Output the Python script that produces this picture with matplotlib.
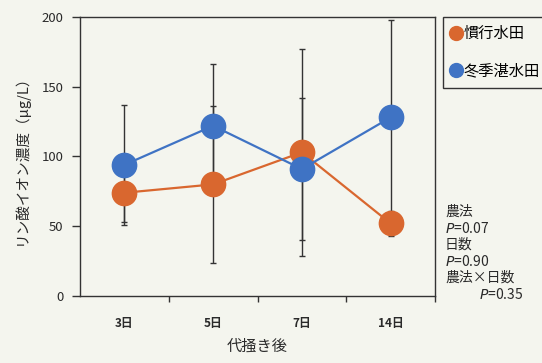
import matplotlib
matplotlib.use("Agg")
import matplotlib.pyplot as plt
from matplotlib.lines import Line2D
import numpy as np

plt.rcParams['font.family'] = ['Noto Sans CJK JP', 'DejaVu Sans']

days = ['3日', '5日', '7日', '14日']
conventional = [74, 80, 103, 52]       # 慣行水田
conventional_err = [21, 56, 74, 9]
winter_flooded = [94, 122, 91, 128]    # 冬季湛水田
winter_flooded_err = [43, 44, 51, 70]
series_names = ['慣行水田', '冬季湛水田']
stats_lines = ['農法', '$P$=0.07', '日数', '$P$=0.90', '農法×日数']
stats_last = '$P$=0.35'

bg = '#f4f5ee'
c_orange = '#d9672f'
c_blue = '#3f73c4'
txt = '#2a2a2a'

fig = plt.figure(figsize=(5.42, 3.63), dpi=100, facecolor=bg)
ax = fig.add_axes([0.1476, 0.1846, 0.655, 0.7686], facecolor=bg)

x = np.arange(len(days))
for vals, errs in [(conventional, conventional_err), (winter_flooded, winter_flooded_err)]:
    ax.errorbar(x, vals, yerr=errs, fmt='none', ecolor='#333333', elinewidth=1.0,
                capsize=2.2, capthick=1.0, zorder=2)
ax.plot(x, conventional, color=c_orange, lw=1.6, marker='o', ms=17.5,
        markerfacecolor=c_orange, markeredgecolor=c_orange, zorder=3)
ax.plot(x, winter_flooded, color=c_blue, lw=1.6, marker='o', ms=17.5,
        markerfacecolor=c_blue, markeredgecolor=c_blue, zorder=4)

ax.set_xlim(-0.5, 3.5)
ax.set_ylim(0, 200)
ax.set_yticks([0, 50, 100, 150, 200])
ax.set_xticks(x)
ax.set_xticklabels(days, fontsize=8.5, fontweight='bold', color=txt)
ax.set_xticks(np.arange(0.5, 4, 1.0), minor=True)
ax.tick_params(axis='x', which='major', length=0, pad=15)
ax.tick_params(axis='x', which='minor', length=4, width=1.0, direction='out', color='#333333')
ax.tick_params(axis='y', length=6, width=1.0, direction='out', color='#333333',
               labelsize=9.5, labelcolor=txt, pad=6)
for sp in ax.spines.values():
    sp.set_color('#333333')
    sp.set_linewidth(1.0)

ax.set_ylabel('リン酸イオン濃度（μg/L）', fontsize=10.5, color=txt, labelpad=9)
ax.set_xlabel('代掻き後', fontsize=11, color=txt, labelpad=6)

handles = [Line2D([], [], ls='none', marker='o', ms=10, color=c_orange),
           Line2D([], [], ls='none', marker='o', ms=10, color=c_blue)]
leg = fig.legend(handles, series_names, loc='upper left',
                 bbox_to_anchor=(443 / 542, 1 - 17 / 363), frameon=True,
                 fancybox=False, edgecolor='#333333', facecolor=bg, framealpha=1,
                 fontsize=11, handlelength=0.6, handletextpad=0.2,
                 labelspacing=1.3, borderpad=0.55, borderaxespad=0)
leg.get_frame().set_linewidth(1.0)

y0 = 212
for i, line in enumerate(stats_lines):
    fig.text(445 / 542, 1 - (y0 + 16.5 * i) / 363, line, fontsize=10, color=txt,
             va='center', ha='left')
fig.text(479 / 542, 1 - (y0 + 16.5 * 5) / 363, stats_last, fontsize=10, color=txt,
         va='center', ha='left')

fig.savefig('out.png', dpi=100, facecolor=bg)
